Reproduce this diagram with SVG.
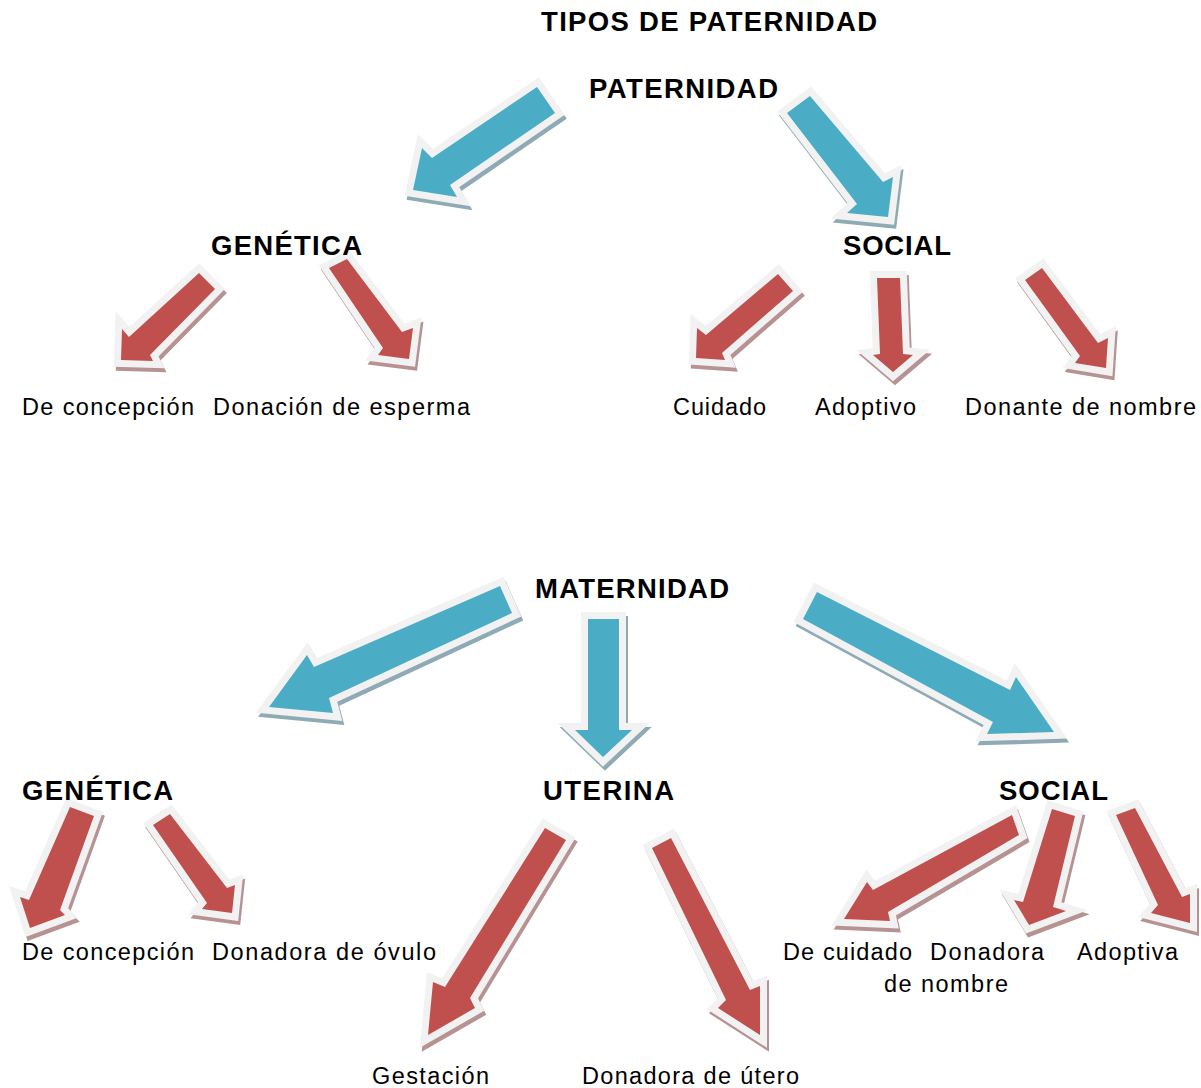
<svg xmlns="http://www.w3.org/2000/svg" xmlns:xlink="http://www.w3.org/1999/xlink" width="1201" height="1088" viewBox="0 0 1201 1088">
<style>
.sb{fill:#8eaab5;stroke:#8eaab5;stroke-width:14;stroke-linejoin:miter}
.sr{fill:#b69293;stroke:#b69293;stroke-width:14;stroke-linejoin:miter}
.bd{fill:#f2f2f2;stroke:#f2f2f2;stroke-width:14;stroke-linejoin:miter}
.fb{fill:#4bacc6}
.fr{fill:#c0504d}
text{font-family:"Liberation Sans",Arial,sans-serif;fill:#000}
.h{font-weight:bold;font-size:27.5px}
.t{font-size:23.5px}
</style>
<defs>
<polygon id="p1" points="537,87 555,113 450,185 457,197 413,190 422,148 432,158"/>
<polygon id="p2" points="810,96 883,182 893,177 888,217 847,213 857,204 787,113"/>
<polygon id="r1" points="199,273 215,289 150,355 153,361 121,360 122,329 129,337"/>
<polygon id="r2" points="347,259 402,332 413,328 409,359 378,355 383,348 329,268"/>
<polygon id="r3" points="778,274 793,291 722,353 725,360 696,358 697,328 706,335"/>
<polygon id="r4" points="877,278 900,278 903,354 913,355 893,372 873,355 880,354"/>
<polygon id="r5" points="1042,268 1098,343 1108,338 1106,368 1075,363 1080,356 1025,280"/>
<polygon id="m1" points="500,586 512,613 329,698 333,713 269,707 307,655 314,667"/>
<polygon id="m2" points="588,619 619,619 619,730 632,730 603,757 575,730 588,730"/>
<polygon id="m3" points="817,592 1010,690 1016,677 1054,732 987,734 993,722 803,619"/>
<polygon id="r6" points="70,807 94,816 60,910 65,915 30,928 20,897 29,900"/>
<polygon id="r7" points="170,814 227,888 235,885 232,913 202,909 207,903 153,825"/>
<polygon id="r8" points="545,828 566,840 470,998 475,1008 428,1035 433,982 445,987"/>
<polygon id="r9" points="671,838 750,990 760,986 760,1035 718,1008 726,1000 652,848"/>
<polygon id="r10" points="1012,815 1019,835 888,912 890,921 844,919 867,882 873,890"/>
<polygon id="r11" points="1052,809 1075,816 1053,907 1066,911 1029,925 1014,900 1023,902"/>
<polygon id="r12" points="1135,808 1182,897 1190,894 1190,923 1151,913 1158,905 1116,815"/>
</defs>
<rect width="1201" height="1088" fill="#ffffff"/>
<g id="connectors">
<g id="c-pat-gen"><use xlink:href="#p1" href="#p1" class="sb" transform="translate(2,4)"/><use xlink:href="#p1" href="#p1" class="bd"/><use xlink:href="#p1" href="#p1" class="fb"/></g>
<g id="c-pat-soc"><use xlink:href="#p2" href="#p2" class="sb" transform="translate(2,4)"/><use xlink:href="#p2" href="#p2" class="bd"/><use xlink:href="#p2" href="#p2" class="fb"/></g>
<g id="c-pgen-conc"><use xlink:href="#r1" href="#r1" class="sr" transform="translate(2,4)"/><use xlink:href="#r1" href="#r1" class="bd"/><use xlink:href="#r1" href="#r1" class="fr"/></g>
<g id="c-pgen-don"><use xlink:href="#r2" href="#r2" class="sr" transform="translate(2,4)"/><use xlink:href="#r2" href="#r2" class="bd"/><use xlink:href="#r2" href="#r2" class="fr"/></g>
<g id="c-psoc-cui"><use xlink:href="#r3" href="#r3" class="sr" transform="translate(2,4)"/><use xlink:href="#r3" href="#r3" class="bd"/><use xlink:href="#r3" href="#r3" class="fr"/></g>
<g id="c-psoc-ado"><use xlink:href="#r4" href="#r4" class="sr" transform="translate(2,4)"/><use xlink:href="#r4" href="#r4" class="bd"/><use xlink:href="#r4" href="#r4" class="fr"/></g>
<g id="c-psoc-don"><use xlink:href="#r5" href="#r5" class="sr" transform="translate(2,4)"/><use xlink:href="#r5" href="#r5" class="bd"/><use xlink:href="#r5" href="#r5" class="fr"/></g>
<g id="c-mat-gen"><use xlink:href="#m1" href="#m1" class="sb" transform="translate(2,4)"/><use xlink:href="#m1" href="#m1" class="bd"/><use xlink:href="#m1" href="#m1" class="fb"/></g>
<g id="c-mat-ute"><use xlink:href="#m2" href="#m2" class="sb" transform="translate(2,4)"/><use xlink:href="#m2" href="#m2" class="bd"/><use xlink:href="#m2" href="#m2" class="fb"/></g>
<g id="c-mat-soc"><use xlink:href="#m3" href="#m3" class="sb" transform="translate(2,4)"/><use xlink:href="#m3" href="#m3" class="bd"/><use xlink:href="#m3" href="#m3" class="fb"/></g>
<g id="c-mgen-conc"><use xlink:href="#r6" href="#r6" class="sr" transform="translate(2,4)"/><use xlink:href="#r6" href="#r6" class="bd"/><use xlink:href="#r6" href="#r6" class="fr"/></g>
<g id="c-mgen-ovu"><use xlink:href="#r7" href="#r7" class="sr" transform="translate(2,4)"/><use xlink:href="#r7" href="#r7" class="bd"/><use xlink:href="#r7" href="#r7" class="fr"/></g>
<g id="c-ute-ges"><use xlink:href="#r8" href="#r8" class="sr" transform="translate(2,4)"/><use xlink:href="#r8" href="#r8" class="bd"/><use xlink:href="#r8" href="#r8" class="fr"/></g>
<g id="c-ute-don"><use xlink:href="#r9" href="#r9" class="sr" transform="translate(2,4)"/><use xlink:href="#r9" href="#r9" class="bd"/><use xlink:href="#r9" href="#r9" class="fr"/></g>
<g id="c-msoc-cui"><use xlink:href="#r10" href="#r10" class="sr" transform="translate(2,4)"/><use xlink:href="#r10" href="#r10" class="bd"/><use xlink:href="#r10" href="#r10" class="fr"/></g>
<g id="c-msoc-don"><use xlink:href="#r11" href="#r11" class="sr" transform="translate(2,4)"/><use xlink:href="#r11" href="#r11" class="bd"/><use xlink:href="#r11" href="#r11" class="fr"/></g>
<g id="c-msoc-ado"><use xlink:href="#r12" href="#r12" class="sr" transform="translate(2,4)"/><use xlink:href="#r12" href="#r12" class="bd"/><use xlink:href="#r12" href="#r12" class="fr"/></g>
</g>
<g id="title"><text class="h" x="541" y="31" textLength="336">TIPOS DE PATERNIDAD</text></g>
<g id="n-paternidad"><text class="h" x="589" y="98" textLength="189">PATERNIDAD</text></g>
<g id="n-p-genetica"><text class="h" x="211" y="255" textLength="151">GENÉTICA</text></g>
<g id="n-p-social"><text class="h" x="843" y="255" textLength="108">SOCIAL</text></g>
<g id="n-p-concepcion"><text class="t" x="22" y="415" textLength="172">De concepción</text></g>
<g id="n-p-esperma"><text class="t" x="213" y="415" textLength="257">Donación de esperma</text></g>
<g id="n-p-cuidado"><text class="t" x="673" y="415" textLength="93">Cuidado</text></g>
<g id="n-p-adoptivo"><text class="t" x="815" y="415" textLength="101">Adoptivo</text></g>
<g id="n-p-nombre"><text class="t" x="965" y="415" textLength="231">Donante de nombre</text></g>
<g id="n-maternidad"><text class="h" x="535" y="598" textLength="194">MATERNIDAD</text></g>
<g id="n-m-genetica"><text class="h" x="22" y="800" textLength="151">GENÉTICA</text></g>
<g id="n-m-uterina"><text class="h" x="543" y="800" textLength="131">UTERINA</text></g>
<g id="n-m-social"><text class="h" x="999" y="800" textLength="109">SOCIAL</text></g>
<g id="n-m-concepcion"><text class="t" x="22" y="960" textLength="172">De concepción</text></g>
<g id="n-m-ovulo"><text class="t" x="212" y="960" textLength="224">Donadora de óvulo</text></g>
<g id="n-m-cuidado"><text class="t" x="783" y="960" textLength="129">De cuidado</text></g>
<g id="n-m-nombre"><text class="t" x="930" y="960" textLength="114">Donadora</text><text class="t" x="884" y="992" textLength="124">de nombre</text></g>
<g id="n-m-adoptiva"><text class="t" x="1077" y="960" textLength="101">Adoptiva</text></g>
<g id="n-m-gestacion"><text class="t" x="372" y="1084" textLength="117">Gestación</text></g>
<g id="n-m-utero"><text class="t" x="582" y="1084" textLength="217">Donadora de útero</text></g>
</svg>
